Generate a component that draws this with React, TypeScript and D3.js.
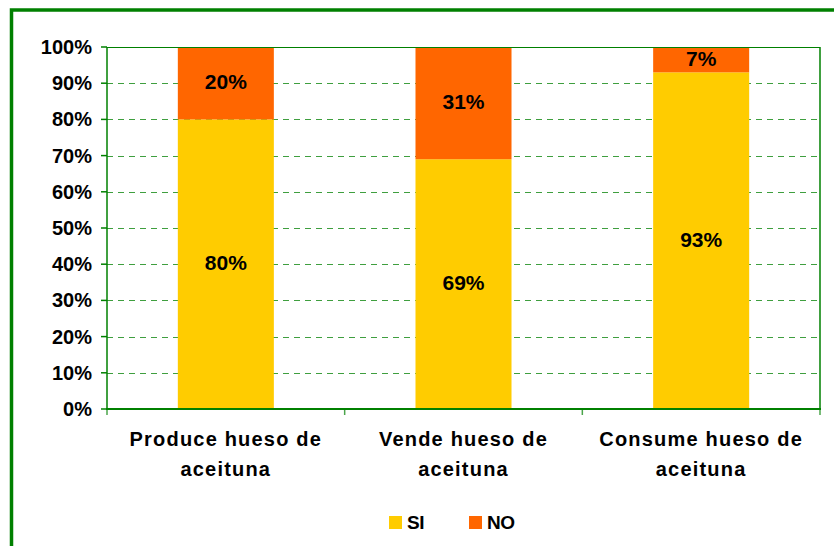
import React from "react";
import * as d3 from "d3";

const categories = [["Produce hueso de", "aceituna"], ["Vende hueso de", "aceituna"], ["Consume hueso de", "aceituna"]];
const siValues = [80, 69, 93];
const noValues = [20, 31, 7];
const yTicks = [0, 10, 20, 30, 40, 50, 60, 70, 80, 90, 100];
const seriesNames = ["SI", "NO"];
const seriesColors = ["#FFCC00", "#FF6600"];

const W = 834, H = 546;
const m = { left: 107, top: 47, right: 820, bottom: 409 };
const green = "#008000";
const font = "'Liberation Sans', Arial, sans-serif";

export default function App() {
  const x = d3.scaleBand<number>().domain(d3.range(categories.length)).range([m.left, m.right]).paddingInner(0.596).paddingOuter(0.298);
  const band = d3.scaleBand<number>().domain(d3.range(categories.length)).range([m.left, m.right]);
  const y = d3.scaleLinear().domain([0, 100]).range([m.bottom, m.top]);

  const stacked = categories.map((_, i) => [
    { name: "SI", y0: 0, y1: siValues[i], color: seriesColors[0] },
    { name: "NO", y0: siValues[i], y1: siValues[i] + noValues[i], color: seriesColors[1] },
  ]);

  return (
    <svg width={W} height={H} style={{ position: "absolute", left: 0, top: 0, background: "#fff" }} fontFamily={font}>
      <rect x={0} y={0} width={W} height={H} fill="#fff" />
      <rect x={11.5} y={10} width={900} height={700} fill="none" stroke={green} strokeWidth={3.5} />

      {/* grid */}
      {yTicks.filter(t => t > 0 && t < 100).map(t => (
        <line key={t} x1={m.left} x2={m.right} y1={Math.round(y(t)) + 0.5} y2={Math.round(y(t)) + 0.5}
          stroke={green} strokeWidth={1} strokeDasharray="6,5" opacity={0.75} />
      ))}

      {/* bars */}
      {stacked.map((segs, i) => (
        <g key={i}>
          {segs.map(s => (
            <rect key={s.name} x={x(i)} width={x.bandwidth()} y={y(s.y1)} height={y(s.y0) - y(s.y1)} fill={s.color} />
          ))}
          {segs.map(s => (
            <text key={s.name + "t"} x={x(i)! + x.bandwidth() / 2} y={(y(s.y0) + y(s.y1)) / 2 + 6}
              textAnchor="middle" fontSize={21} fontWeight="bold" fill="#000">
              {Math.round(s.y1 - s.y0)}%
            </text>
          ))}
        </g>
      ))}

      {/* plot frame */}
      <line x1={m.left} x2={m.right} y1={m.top + 0.5} y2={m.top + 0.5} stroke={green} strokeWidth={1} />
      <line x1={m.right} x2={m.right} y1={m.top} y2={m.bottom} stroke={green} strokeWidth={1.5} />
      <line x1={m.left} x2={m.left} y1={m.top} y2={m.bottom} stroke={green} strokeWidth={1.5} />
      <line x1={m.left - 1} x2={m.right + 1} y1={m.bottom} y2={m.bottom} stroke={green} strokeWidth={2} />

      {/* y axis */}
      {yTicks.map(t => (
        <g key={t}>
          <line x1={m.left - 6} x2={m.left} y1={y(t)} y2={y(t)} stroke={green} strokeWidth={1.5} />
          <text x={92} y={y(t) + 7} textAnchor="end" fontSize={20} fontWeight="bold" fill="#000">{t}%</text>
        </g>
      ))}

      {/* x axis */}
      {d3.range(categories.length + 1).map(i => (
        <line key={i} x1={m.left + i * band.bandwidth()} x2={m.left + i * band.bandwidth()} y1={m.bottom} y2={m.bottom + 6}
          stroke={green} strokeWidth={1.5} opacity={0.7} />
      ))}
      {categories.map((lines, i) => (
        <text key={i} textAnchor="middle" fontSize={20} fontWeight="bold" fill="#000" letterSpacing={1.2}>
          {lines.map((l, j) => (
            <tspan key={j} x={band(i)! + band.bandwidth() / 2} y={446 + j * 30}>{l}</tspan>
          ))}
        </text>
      ))}

      {/* legend */}
      {seriesNames.map((n, i) => (
        <g key={n} transform={`translate(${389 + i * 80},516)`}>
          <rect width={13} height={13} fill={seriesColors[i]} />
          <text x={18} y={13} fontSize={19} fontWeight="bold" fill="#000" letterSpacing={-0.5}>{n}</text>
        </g>
      ))}
    </svg>
  );
}
